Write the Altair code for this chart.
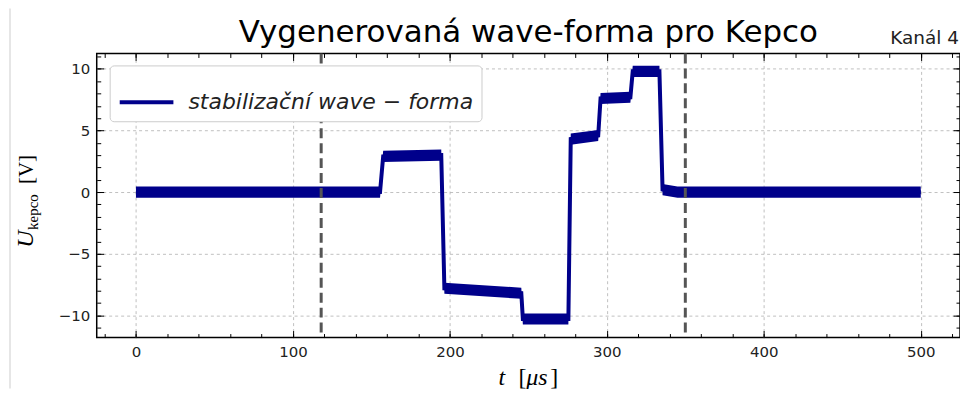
import altair as alt
import pandas as pd

# ---- data ----
t_us = [0, 155.5, 157.5, 194.5, 196.5, 245.5, 246.5, 275.5, 277.0, 294.5, 296.0, 315.0, 316.5, 333.5, 335.5, 345.0, 500.0]
u_v = [0.0, 0.0, 2.9, 3.0, -7.8, -8.2, -10.3, -10.3, 4.3, 4.6, 7.6, 7.7, 9.8, 9.8, 0.2, 0.0, 0.0]
vlines_us = [118, 350]
series_name = "stabilizační wave − forma"
x_major = [0, 100, 200, 300, 400, 500]
x_minor = list(range(-20, 540, 20))
y_major = [-10, -5, 0, 5, 10]
y_minor = list(range(-11, 12, 1))

W, H = 866, 285
NOISE = 0.45
BLUE = "#00008b"

df = pd.DataFrame({"t": t_us, "u": u_v, "series": [series_name] * len(t_us)})
df_v = pd.DataFrame({"t": vlines_us})
one = pd.DataFrame({"a": [0]})

xs = alt.Scale(domain=[-25, 525], nice=False, zero=False)
ys = alt.Scale(domain=[-11.8, 11.25], nice=False, zero=False)


def tick_axis(orient, values, size):
    return alt.Axis(orient=orient, values=values, grid=False, domain=False, labels=False,
                    ticks=True, tickSize=size, offset=-size, tickColor="black", tickWidth=1,
                    title=None)


main_x = alt.Axis(orient="bottom", values=x_major, grid=True, gridDash=[3, 3], gridColor="#b0b0b0",
                  gridWidth=0.8, ticks=False, domain=False, labelPadding=7, labelFontSize=15,
                  labelFont="DejaVu Sans", labelColor="#222222", title=None, format="d")
main_y = alt.Axis(orient="left", values=y_major, grid=True, gridDash=[3, 3], gridColor="#b0b0b0",
                  gridWidth=0.8, ticks=False, domain=False, labelPadding=7, labelFontSize=15,
                  labelFont="DejaVu Sans", labelColor="#222222", title=None, format="d")

band = alt.Chart(df).transform_calculate(
    lo=f"datum.u - {NOISE}", hi=f"datum.u + {NOISE}"
).mark_area(color=BLUE, opacity=1).encode(
    x=alt.X("t:Q", scale=xs, axis=main_x),
    y=alt.Y("lo:Q", scale=ys, axis=main_y),
    y2="hi:Q",
)

line = alt.Chart(df).mark_line(strokeWidth=4, strokeJoin="miter").encode(
    x=alt.X("t:Q", scale=xs, axis=None),
    y=alt.Y("u:Q", scale=ys, axis=None),
    color=alt.Color("series:N", scale=alt.Scale(range=[BLUE]),
                    legend=alt.Legend(title=None, orient="none", legendX=13, legendY=12,
                                      symbolType="stroke", symbolSize=2900, symbolStrokeWidth=4,
                                      labelFontSize=22, labelFontStyle="italic",
                                      labelFont="DejaVu Sans", labelColor="#222222",
                                      labelLimit=1000,
                                      fillColor="white", strokeColor="#cccccc", cornerRadius=4,
                                      padding=8, labelOffset=13)),
)

vl = alt.Chart(df_v).mark_rule(color="#555555", strokeWidth=3, strokeDash=[10, 5]).encode(
    x=alt.X("t:Q", scale=xs, axis=None),
)


def tick_layer(xa, ya):
    return alt.Chart(df).mark_point(opacity=0).encode(
        x=alt.X("t:Q", scale=xs, axis=xa),
        y=alt.Y("u:Q", scale=ys, axis=ya),
    )


ticks = [
    tick_layer(tick_axis("bottom", x_major, 7), tick_axis("left", y_major, 7)),
    tick_layer(tick_axis("top", x_major, 7), tick_axis("right", y_major, 7)),
    tick_layer(tick_axis("bottom", x_minor, 4), tick_axis("left", y_minor, 4)),
    tick_layer(tick_axis("top", x_minor, 4), tick_axis("right", y_minor, 4)),
]


def txt(text, x, y, size, font="DejaVu Sans", style="normal", align="left", angle=0,
        color="black"):
    kw = dict(text=text, font=font, fontSize=size, fontStyle=style, align=align,
              baseline="alphabetic", color=color)
    if angle:
        kw["angle"] = angle
    return alt.Chart(one).mark_text(**kw).encode(x=alt.value(x), y=alt.value(y))


SERIF = "Liberation Serif"
texts = [
    txt("Vygenerovaná wave-forma pro Kepco", W / 2, -11, 31, align="center"),
    txt("Kanál 4", W - 1, -9, 18.5, align="right", color="#222222"),
    # y label
    txt("U", -64, 195, 24, font=SERIF, style="italic", angle=270),
    txt("kepco", -59, 177, 15, font=SERIF, angle=270),
    txt("[V]", -64, 131, 21, font=SERIF, angle=270),
    # x label
    txt("t", 403, 333, 24, font=SERIF, style="italic"),
    txt("[", 423, 333, 24, font=SERIF),
    txt("μs", 431, 333, 24, font=SERIF, style="italic"),
    txt("]", 455, 333, 24, font=SERIF),
]

artifact = alt.Chart(one).mark_rule(color="#e6e6e6", strokeWidth=2).encode(
    x=alt.value(-87), y=alt.value(-45), y2=alt.value(H + 51)
)

chart = alt.layer(band, line, vl, *ticks, *texts, artifact).resolve_axis(
    x="independent", y="independent"
).properties(
    width=W, height=H,
    autosize=alt.AutoSizeParams(type="none"),
    padding={"left": 89, "top": 45, "right": 0, "bottom": 51},
).configure_view(stroke="black", strokeWidth=1.5)

chart.save("out.html", embed_options={"renderer": "svg", "actions": False})
